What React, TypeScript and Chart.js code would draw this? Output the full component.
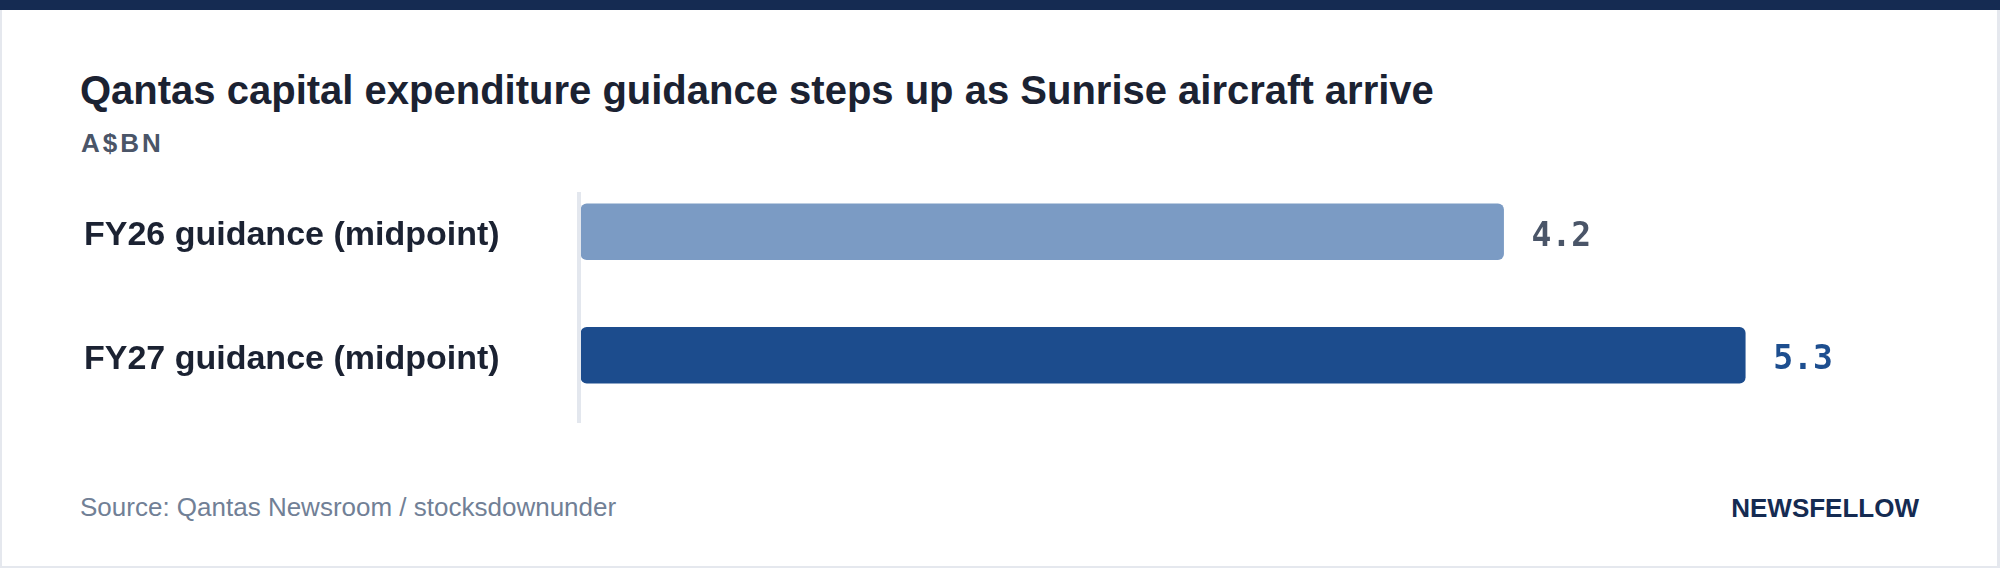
import React, { useEffect, useRef } from "react";
import { Chart, registerables } from "chart.js";

Chart.register(...registerables);

const categories: string[] = ["FY26 guidance (midpoint)", "FY27 guidance (midpoint)"];
const capexValues: number[] = [4.2, 5.3];
const valueLabels: string[] = ["4.2", "5.3"];
const barColors: string[] = ["#7b9bc4", "#1c4c8d"];
const valueLabelColors: string[] = ["#4a5568", "#1d4e8f"];
const xAxisMax = 6;

const SANS = '"Liberation Sans", Arial, Helvetica, sans-serif';
const MONO = '"DejaVu Sans Mono", "Liberation Mono", monospace';

const axisLinePlugin = {
  id: "axisLine",
  beforeDatasetsDraw(chart: any) {
    const { ctx, chartArea } = chart;
    ctx.save();
    ctx.fillStyle = "#e3e7ee";
    ctx.fillRect(chartArea.left - 4, chartArea.top + 22, 4, chartArea.bottom - chartArea.top - 16);
    ctx.restore();
  },
};

const valueLabelPlugin = {
  id: "valueLabels",
  afterDatasetsDraw(chart: any) {
    const { ctx } = chart;
    const meta = chart.getDatasetMeta(0);
    ctx.save();
    ctx.font = `bold 33px ${MONO}`;
    ctx.textAlign = "left";
    ctx.textBaseline = "alphabetic";
    meta.data.forEach((bar: any, i: number) => {
      ctx.fillStyle = valueLabelColors[i];
      ctx.fillText(valueLabels[i], bar.x + 28, bar.y + 14);
    });
    ctx.restore();
  },
};

function CapexChart() {
  const ref = useRef<HTMLCanvasElement | null>(null);
  useEffect(() => {
    if (!ref.current) return;
    const chart = new Chart(ref.current, {
      type: "bar",
      data: {
        labels: categories,
        datasets: [
          {
            data: capexValues,
            backgroundColor: barColors,
            borderRadius: 6,
            borderSkipped: false,
            barThickness: 56,
          },
        ],
      },
      options: {
        indexAxis: "y",
        animation: false,
        responsive: false,
        maintainAspectRatio: false,
        devicePixelRatio: 1,
        layout: { padding: { left: 84, right: 101, top: 22, bottom: 33 } },
        plugins: { legend: { display: false }, tooltip: { enabled: false }, title: { display: false } },
        scales: {
          x: { display: false, min: 0, max: xAxisMax },
          y: {
            grid: { display: false },
            border: { display: false },
            ticks: {
              crossAlign: "far",
              padding: 0,
              labelOffset: 4,
              color: "#1b2232",
              font: { family: SANS, size: 34, weight: "bold" },
            },
            afterFit: (scale: any) => {
              scale.width = 497;
            },
          },
        },
      },
      plugins: [axisLinePlugin, valueLabelPlugin],
    } as any);
    return () => chart.destroy();
  }, []);
  return (
    <canvas
      ref={ref}
      width={2000}
      height={302}
      style={{ position: "absolute", left: 0, top: 148, width: 2000, height: 302 }}
    />
  );
}

export default function App() {
  return (
    <div
      style={{
        position: "absolute",
        left: 0,
        top: 0,
        width: 2000,
        height: 568,
        background: "#ffffff",
        overflow: "hidden",
        fontFamily: SANS,
      }}
    >
      <div style={{ position: "absolute", left: 0, top: 0, width: 2000, height: 10, background: "#152b52" }} />
      <div style={{ position: "absolute", left: 0, top: 10, width: 2, height: 558, background: "#e5e8ee" }} />
      <div style={{ position: "absolute", left: 1997, top: 10, width: 3, height: 558, background: "#e5e8ee" }} />
      <div style={{ position: "absolute", left: 0, top: 566, width: 2000, height: 2, background: "#e5e8ee" }} />
      <div
        style={{
          position: "absolute",
          left: 80,
          top: 70,
          fontSize: 40,
          lineHeight: "40px",
          fontWeight: 700,
          color: "#1b2232",
          whiteSpace: "nowrap",
        }}
      >
        Qantas capital expenditure guidance steps up as Sunrise aircraft arrive
      </div>
      <div
        style={{
          position: "absolute",
          left: 81,
          top: 130,
          fontSize: 26,
          lineHeight: "26px",
          fontWeight: 700,
          letterSpacing: 3,
          color: "#4a5568",
          whiteSpace: "nowrap",
        }}
      >
        A$BN
      </div>
      <CapexChart />
      <div
        style={{
          position: "absolute",
          left: 80,
          top: 494,
          fontSize: 26,
          lineHeight: "26px",
          color: "#718096",
          whiteSpace: "nowrap",
        }}
      >
        Source: Qantas Newsroom / stocksdownunder
      </div>
      <div
        style={{
          position: "absolute",
          right: 81,
          top: 495,
          fontSize: 26,
          lineHeight: "26px",
          fontWeight: 700,
          color: "#152b52",
          whiteSpace: "nowrap",
        }}
      >
        NEWSFELLOW
      </div>
    </div>
  );
}
